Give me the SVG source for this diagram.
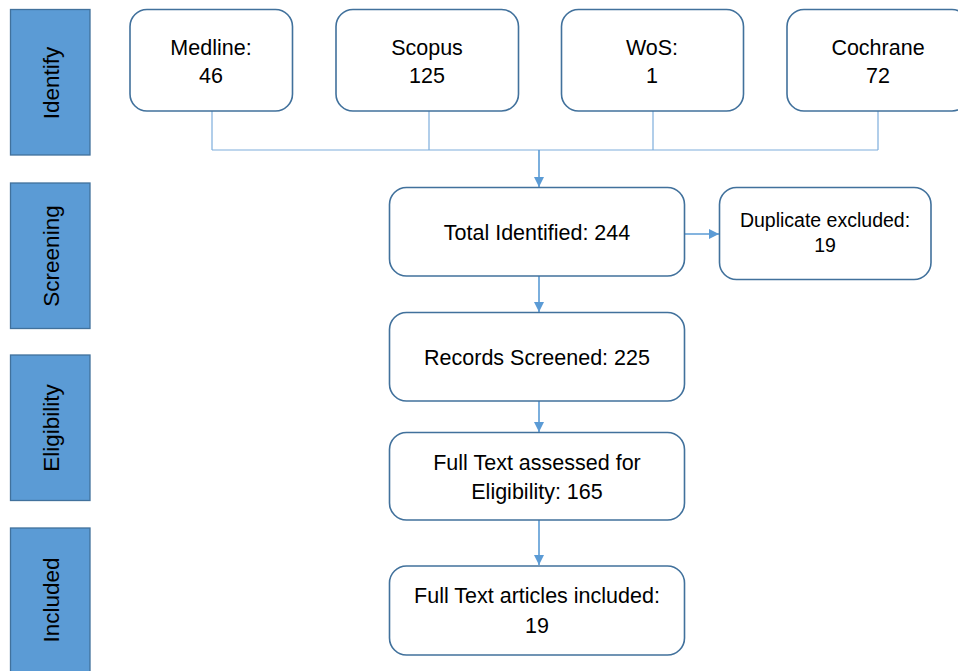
<svg xmlns="http://www.w3.org/2000/svg" width="958" height="671" viewBox="0 0 958 671">
<style>
.stage{fill:#5B9BD5;stroke:#41719C;stroke-width:1.3}
.stxt{font-family:"Liberation Sans",Arial,sans-serif;font-size:22.5px;fill:#000;text-anchor:middle}
.box{fill:#fff;stroke:#41719C;stroke-width:1.6}
.txt{font-family:"Liberation Sans",Arial,sans-serif;font-size:21.5px;fill:#000;text-anchor:middle}
.small{font-size:19.5px}
.thin{stroke:#7EAEDC;stroke-width:1.2;fill:none}
.arr{stroke:#5B9BD5;stroke-width:1.6;fill:none}
</style>
<defs>
<marker id="ah" viewBox="0 0 10 10" refX="10" refY="5" markerWidth="10" markerHeight="10" markerUnits="userSpaceOnUse" orient="auto">
<path d="M0,0 L10,5 L0,10 Z" fill="#5B9BD5"/>
</marker>
</defs>
<rect width="958" height="671" fill="#fff"/>
<g id="stage-identify"><rect class="stage" x="10.5" y="9.5" width="79.5" height="145.5"/><text class="stxt" transform="translate(59,83) rotate(-90)">Identify</text></g>
<g id="stage-screening"><rect class="stage" x="10.5" y="183" width="79.5" height="145.5"/><text class="stxt" transform="translate(59,256) rotate(-90)">Screening</text></g>
<g id="stage-eligibility"><rect class="stage" x="10.5" y="355" width="79.5" height="145.5"/><text class="stxt" transform="translate(59,428) rotate(-90)">Eligibility</text></g>
<g id="stage-included"><rect class="stage" x="10.5" y="528" width="79.5" height="150"/><text class="stxt" transform="translate(59,600) rotate(-90)">Included</text></g>

<g id="connectors">
<path class="thin" d="M212,111 V150 M429,111 V150 M653,111 V150 M878,111 V150 M212,150 H878"/>
<path class="arr" d="M539,150 V187" marker-end="url(#ah)"/>
<path class="arr" d="M539,276 V312" marker-end="url(#ah)"/>
<path class="arr" d="M539,401 V432" marker-end="url(#ah)"/>
<path class="arr" d="M539,520 V565" marker-end="url(#ah)"/>
<path class="arr" d="M684,234 H719" marker-end="url(#ah)"/>
</g>

<g id="medline"><rect class="box" x="130" y="9.5" width="162.5" height="101.5" rx="17"/><text class="txt" x="211" y="54.5">Medline:</text><text class="txt" x="211" y="83">46</text></g>
<g id="scopus"><rect class="box" x="336" y="9.5" width="182.5" height="101.5" rx="17"/><text class="txt" x="427" y="54.5">Scopus</text><text class="txt" x="427" y="83">125</text></g>
<g id="wos"><rect class="box" x="561.5" y="9.5" width="182" height="101.5" rx="17"/><text class="txt" x="652" y="54.5">WoS:</text><text class="txt" x="652" y="83">1</text></g>
<g id="cochrane"><rect class="box" x="787" y="9.5" width="182" height="101.5" rx="17"/><text class="txt" x="878" y="54.5">Cochrane</text><text class="txt" x="878" y="83">72</text></g>

<g id="total"><rect class="box" x="389.5" y="187.5" width="295" height="88.5" rx="17"/><text class="txt" x="537" y="239.5">Total Identified: 244</text></g>
<g id="duplicate"><rect class="box" x="719.5" y="187.5" width="211.5" height="92" rx="17"/><text class="txt small" x="825" y="226.5">Duplicate excluded:</text><text class="txt small" x="825" y="251.5">19</text></g>
<g id="screened"><rect class="box" x="389.5" y="312.5" width="295" height="88.5" rx="17"/><text class="txt" x="537" y="364.5">Records Screened: 225</text></g>
<g id="assessed"><rect class="box" x="389.5" y="432.5" width="295" height="87.5" rx="17"/><text class="txt" x="537" y="469.5">Full Text assessed for</text><text class="txt" x="537" y="499">Eligibility: 165</text></g>
<g id="included"><rect class="box" x="389.5" y="566" width="295" height="89" rx="17"/><text class="txt" x="537" y="602.5">Full Text articles included:</text><text class="txt" x="537" y="632.5">19</text></g>
</svg>
